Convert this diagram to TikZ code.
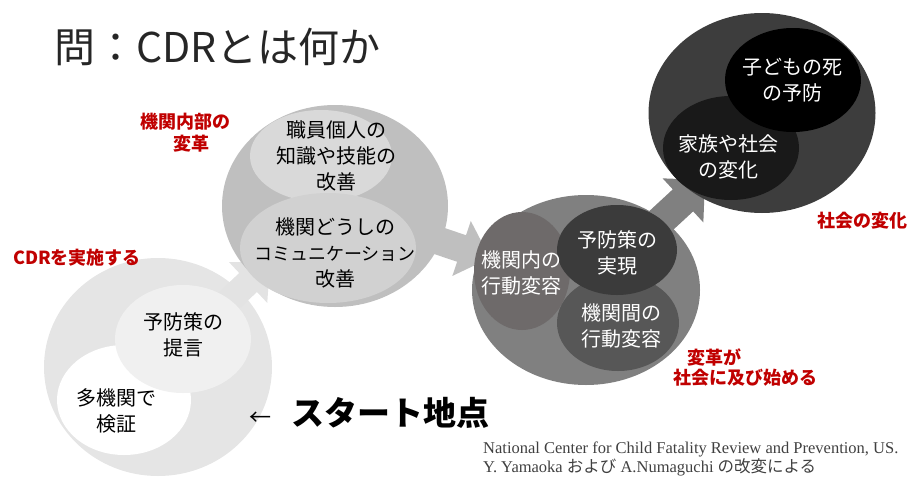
\documentclass[tikz,border=0pt]{standalone}
\usepackage{fontspec}
\setmainfont{Noto Sans CJK JP}
\newfontfamily\citefont{Liberation Serif}
\newfontfamily\jpfont{Noto Sans CJK JP}
\usetikzlibrary{shapes.geometric,calc}
\definecolor{redlab}{HTML}{C00000}
\definecolor{titlegray}{HTML}{262626}
\definecolor{citegray}{HTML}{404040}
\newcommand\blockarr[7]{%
  \coordinate (#1h) at ($(#4)!#7!(#3)$);
  \fill[#2] ($(#3)!#5!90:(#4)$) -- ($(#1h)!#5!90:(#4)$) -- ($(#1h)!#6!90:(#4)$) -- (#4)
    -- ($(#1h)!#6!-90:(#4)$) -- ($(#1h)!#5!-90:(#4)$) -- ($(#3)!#5!-90:(#4)$) -- cycle;}
\begin{document}
\begin{tikzpicture}[x=1pt,y=-1pt,
  blob/.style={ellipse,inner sep=0pt,draw=none},
  intext/.style={align=center,font=\fontsize{20}{26}\selectfont,inner sep=0pt},
  redtext/.style={align=center,text=redlab,font=\fontsize{18}{22}\selectfont\bfseries,inner sep=0pt},
]
\useasboundingbox (0,0) rectangle (910,477);

% title
\node[anchor=west,inner sep=0pt,text=titlegray,font=\fontsize{41}{41}\selectfont] (title) at (54,47) {問：CDRとは何か};

% stage 1
\node[blob,fill=black!10,minimum width=228pt,minimum height=218pt] (c1) at (158,367) {};
\coordinate (a1t) at (270,262);
\blockarr{a1}{black!11}{c1.center}{a1t}{13pt}{28pt}{30pt}
\node[blob,fill=white,minimum width=134pt,minimum height=110pt] (e1b) at (124,400) {};
\node[blob,fill=black!6,minimum width=136pt,minimum height=108pt] (e1a) at (183,339) {};

% stage 2
\node[blob,fill=black!25,minimum width=226pt,minimum height=202pt] (c2) at (335,206) {};
\coordinate (a2t) at (490,258);
\blockarr{a2}{black!25}{c2.center}{a2t}{14pt}{29pt}{30pt}
\node[blob,fill=black!15,minimum width=142pt,minimum height=92pt] (e2a) at (321,156) {};
\node[blob,fill=black!18,minimum width=176pt,minimum height=110pt] (e2b) at (328,248) {};

% stage 3
\node[blob,fill=black!50,minimum width=228pt,minimum height=190pt] (c3) at (586,290) {};
\coordinate (a3t) at (705,180);
\blockarr{a3}{black!50}{c3.center}{a3t}{15pt}{30pt}{30pt}
\node[blob,fill={rgb,255:red,110;green,106;blue,106},minimum width=96pt,minimum height=118pt] (e3a) at (522,271) {};
\node[blob,fill=black!66,minimum width=122pt,minimum height=96pt] (e3c) at (618,323) {};
\node[blob,fill=black!77,minimum width=120pt,minimum height=90pt] (e3b) at (617,250) {};

% stage 4
\node[blob,fill=black!76,minimum width=227pt,minimum height=200pt] (c4) at (762,113) {};
\node[blob,fill=black!90,minimum width=136pt,minimum height=104pt] (e4b) at (731,148) {};
\node[blob,fill=black,minimum width=136pt,minimum height=104pt] (e4a) at (793,80) {};

% inner texts
\node[intext] (t1a) at (183,335) {予防策の\\提言};
\node[intext] (t1b) at (116,411) {多機関で\\検証};
\node[intext] (t2a) at (336,156) {職員個人の\\知識や技能の\\改善};
\node[intext] (t2b) at (335,253) {機関どうしの\\{\fontsize{18}{26}\selectfont コミュニケーション}\\改善};
\node[intext,text=white] (t3a) at (521,273) {機関内の\\行動変容};
\node[intext,text=white] (t3b) at (617,253) {予防策の\\実現};
\node[intext,text=white] (t3c) at (621,326) {機関間の\\行動変容};
\node[intext,text=white] (t4a) at (792,80) {子どもの死\\の予防};
\node[intext,text=white] (t4b) at (728,157) {家族や社会\\の変化};

% red labels
\node[redtext] (r1) at (185,133) {機関内部の\\\hspace*{12pt}変革};
\node[redtext] (r2) at (77,258) {CDRを実施する};
\node[redtext] (r3) at (862,221) {社会の変化};
\node[redtext,anchor=west] (r4a) at (687,357) {変革が};
\node[redtext,anchor=west] (r4b) at (673,378) {社会に及び始める};

% start label
\node[anchor=west,inner sep=0pt] (start) at (249,413) {{\fontsize{22}{22}\selectfont ←}\hspace{20pt}{\bfseries\fontsize{33}{33}\selectfont スタート地点}};

% citation
\node[anchor=west,inner sep=0pt,align=left,text=citegray,font=\citefont\fontsize{16.5}{16.5}\selectfont] (cite) at (483,459) {National Center for Child Fatality Review and Prevention, US.\\Y. Yamaoka {\jpfont および} A.Numaguchi {\jpfont の改変による}};
\end{tikzpicture}
\end{document}
